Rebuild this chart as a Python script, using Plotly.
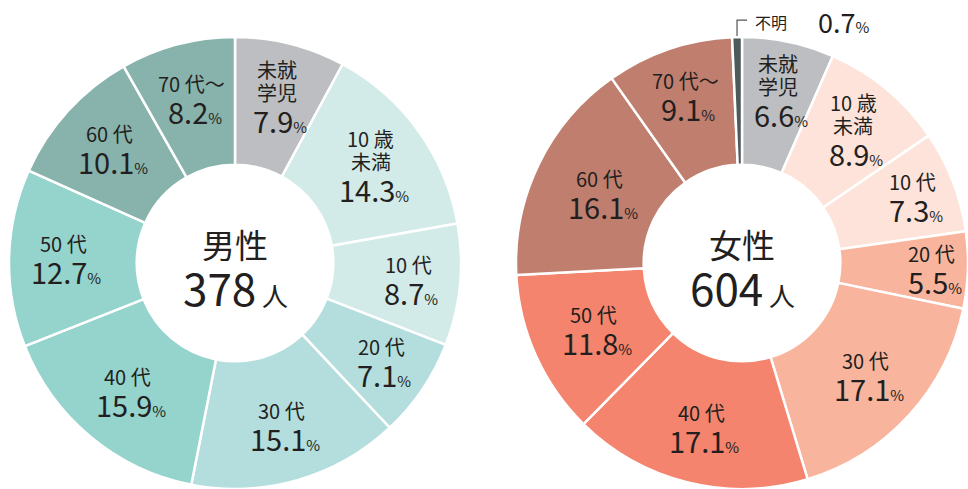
import math
import plotly.graph_objects as go

# ---------------- data ----------------
male_labels = ["未就<br>学児", "10 歳<br>未満", "10 代", "20 代", "30 代", "40 代", "50 代", "60 代", "70 代～"]
male_values = [7.9, 14.3, 8.7, 7.1, 15.1, 15.9, 12.7, 10.1, 8.2]
male_total = 378

female_labels = ["未就<br>学児", "10 歳<br>未満", "10 代", "20 代", "30 代", "40 代", "50 代", "60 代", "70 代～", "不明"]
female_values = [6.6, 8.9, 7.3, 5.5, 17.1, 17.1, 11.8, 16.1, 9.1, 0.7]
female_total = 604

# ---------------- styles ----------------
male_colors = ["#bcbec1", "#d2ebe8", "#d2ebe8", "#b3dedd", "#b3dedd",
               "#95d3cd", "#95d3cd", "#88b2ac", "#88b2ac"]
female_colors = ["#bcbec1", "#fde3d9", "#fde3d9", "#f9b49d", "#f9b49d",
                 "#f4846d", "#f4846d", "#c07e6f", "#c07e6f", "#4d5a5b"]
# label radius as fraction of outer radius (None = not drawn inside)
male_lr = [0.76, 0.74, 0.77, 0.78, 0.75, 0.74, 0.76, 0.75, 0.75]
female_lr = [0.78, 0.77, 0.81, 0.84, 0.74, 0.75, 0.72, 0.70, 0.78, None]

W, H = 968, 489
FONT = "Noto Sans CJK JP, sans-serif"
TXT = "#231f20"
HOLE = 0.435

male_dom = dict(x=[9 / W, 461 / W], y=[0, 452 / H])
female_dom = dict(x=[516 / W, 1.0], y=[0, 452 / H])

fig = go.Figure()
for vals, cols, dom in [(male_values, male_colors, male_dom), (female_values, female_colors, female_dom)]:
    fig.add_trace(go.Pie(
        values=vals, marker=dict(colors=cols, line=dict(color="white", width=2.5)),
        hole=HOLE, sort=False, direction="clockwise", rotation=0,
        textinfo="none", hoverinfo="skip", domain=dom, showlegend=False))

annotations = []
shapes = []


def geom(dom):
    x0, x1 = dom["x"][0] * W, dom["x"][1] * W
    y0, y1 = (1 - dom["y"][1]) * H, (1 - dom["y"][0]) * H
    r = min(x1 - x0, y1 - y0) / 2
    return (x0 + x1) / 2, (y0 + y1) / 2, r


def ann(px, py, text, size, xanchor="center"):
    annotations.append(dict(x=px / W, y=1 - py / H, xref="paper", yref="paper",
                            xanchor=xanchor, yanchor="middle",
                            text=text, showarrow=False, borderpad=0,
                            font=dict(family=FONT, size=size, color=TXT)))


def add_labels(labels, values, lr, dom):
    cx, cy, r = geom(dom)
    total = sum(values)
    cum = 0
    for lab, v, f in zip(labels, values, lr):
        mid = (cum + v / 2) / total * 2 * math.pi
        cum += v
        if f is None:
            continue
        px = cx + f * r * math.sin(mid)
        py = cy - f * r * math.cos(mid)
        lines = lab.split("<br>")
        n = len(lines)
        blk = n * 23 + 31
        top = py - blk / 2
        for i, ln in enumerate(lines):
            ann(px, top + i * 23 + 11.5, ln, 20)
        ann(px + 3, top + n * 23 + 16,
            f"{v:.1f}<span style='font-size:15px'>%</span>", 29)


add_labels(male_labels, male_values, male_lr, male_dom)
add_labels(female_labels, female_values, female_lr, female_dom)

# center texts
for dom, title, total in [(male_dom, "男性", male_total), (female_dom, "女性", female_total)]:
    cx, cy, r = geom(dom)
    ann(cx, cy - 19, title, 33)
    ann(cx, cy + 24, f"{total}<span style='font-size:26px'> 人</span>", 44)

# 不明 callout
cx, cy, r = geom(female_dom)
tot = sum(female_values)
mid = (tot - female_values[-1] / 2) / tot * 2 * math.pi
lx = cx + (r + 1) * math.sin(mid)
ly = cy - (r + 1) * math.cos(mid)
shapes.append(dict(type="path", xref="paper", yref="paper",
                   path=f"M {lx / W},{1 - ly / H} L {lx / W},{1 - (ly - 16) / H} L {(lx + 10) / W},{1 - (ly - 16) / H}",
                   line=dict(color="#555", width=1.2)))
ann(lx + 17, ly - 14, female_labels[-1], 16, xanchor="left")
ann(lx + 80, ly - 15, f"{female_values[-1]:.1f}<span style='font-size:15px'>%</span>", 27, xanchor="left")

fig.update_layout(width=W, height=H, margin=dict(l=0, r=0, t=0, b=0),
                  paper_bgcolor="white", plot_bgcolor="white",
                  annotations=annotations, shapes=shapes)
fig.write_html("out.html", config={"displayModeBar": False},
               post_script="document.body.style.margin='0';")
